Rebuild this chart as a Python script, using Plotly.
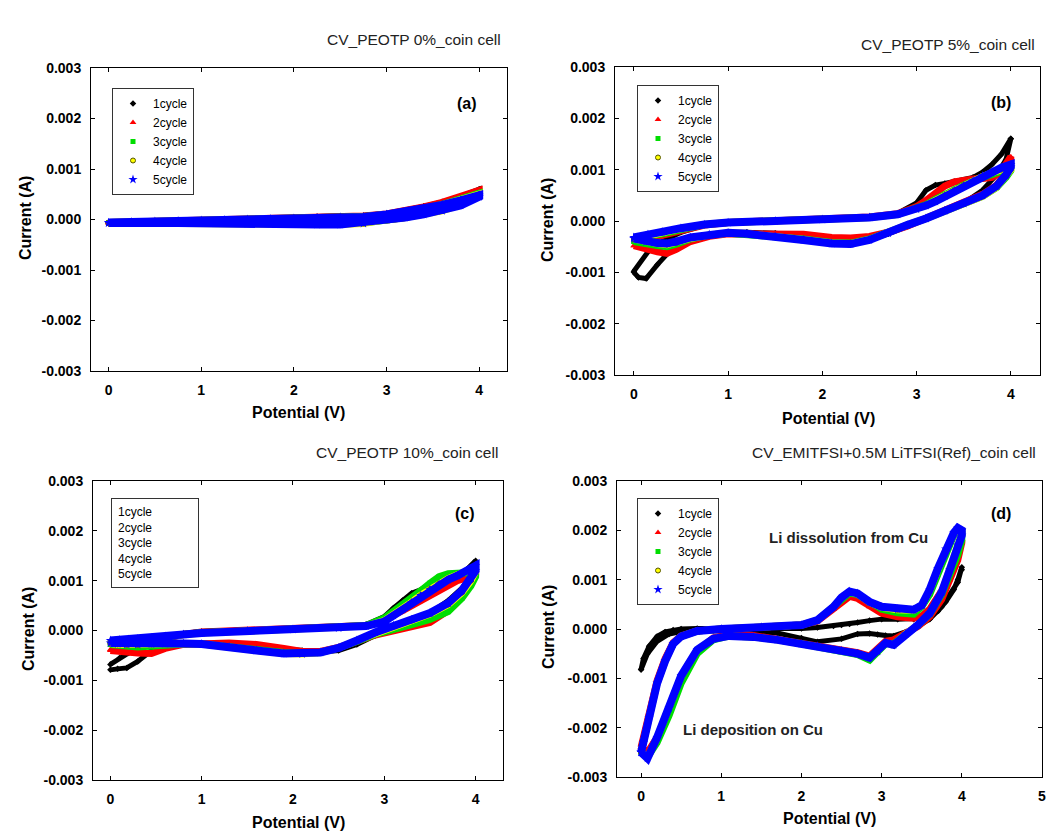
import plotly.graph_objects as go

# ---------------- data ----------------
CYCLE_NAMES = ["1cycle", "2cycle", "3cycle", "4cycle", "5cycle"]

PANEL_TITLES = ["CV_PEOTP 0%_coin cell", "CV_PEOTP 5%_coin cell",
                "CV_PEOTP 10%_coin cell", "CV_EMITFSI+0.5M LiTFSI(Ref)_coin cell"]
PANEL_LABELS = ["(a)", "(b)", "(c)", "(d)"]
X_TITLE = "Potential (V)"
Y_TITLE = "Current (A)"
Y_TICK_VALUES = [-0.003, -0.002, -0.001, 0.0, 0.001, 0.002, 0.003]
Y_TICK_LABELS = ["-0.003", "-0.002", "-0.001", "0.000", "0.001", "0.002", "0.003"]
X_TICKS_ABC = [0, 1, 2, 3, 4]
X_TICKS_D = [0, 1, 2, 3, 4, 5]
D_NOTES = ["Li dissolution from Cu", "Li deposition on Cu"]

# panel (a) : potential (V) along the loop and current (A) per cycle
A_V = [0.0, 0.25, 0.5, 0.75, 1.0, 1.25, 1.5, 1.75, 2.0, 2.25, 2.5, 2.75, 3.0, 3.2, 3.4, 3.6, 3.8, 4.0,
       4.0, 3.8, 3.6, 3.4, 3.2, 3.0, 2.75, 2.5, 2.25, 2.0, 1.75, 1.5, 1.25, 1.0, 0.75, 0.5, 0.25, 0.0]
A_I1 = [-0.00006, -0.00005, -0.00004, -0.00003, -0.00002, -0.00001, 0.0, 0.00002, 0.00004, 0.00006, 0.00007, 0.00008, 0.00012, 0.00018, 0.00026, 0.00035, 0.00046, 0.0006,
        0.00055, 0.00036, 0.00022, 0.00012, 0.00005, 0.0, -0.00004, -0.00005, -0.00004, -0.00004, -0.00005, -0.00005, -0.00006, -0.00006, -0.00007, -0.00007, -0.00008, -0.00008]
A_I2 = [-0.00006, -0.00005, -0.00004, -0.00003, -0.00002, -0.00001, 0.0, 0.00001, 0.00003, 0.00005, 0.00006, 0.00007, 0.00011, 0.00017, 0.00025, 0.00034, 0.00045, 0.00058,
        0.00052, 0.00033, 0.0002, 0.00011, 0.00004, -0.00001, -0.00006, -0.00008, -0.00008, -0.00007, -0.00007, -0.00007, -0.00007, -0.00007, -0.00008, -0.00008, -0.00008, -0.00008]
A_I3 = [-0.00006, -0.00005, -0.00004, -0.00003, -0.00002, -0.00001, 0.0, 0.00001, 0.00002, 0.00004, 0.00005, 0.00006, 0.0001, 0.00015, 0.00022, 0.0003, 0.0004, 0.00052,
        0.00048, 0.0003, 0.00018, 0.0001, 0.00004, -0.00001, -0.00007, -0.00009, -0.00009, -0.00008, -0.00008, -0.00007, -0.00007, -0.00007, -0.00007, -0.00007, -0.00007, -0.00007]
A_I4 = [-0.00006, -0.00005, -0.00004, -0.00003, -0.00002, -0.00001, 0.0, 0.00001, 0.00002, 0.00003, 0.00004, 0.00005, 0.0001, 0.00015, 0.00021, 0.00029, 0.00039, 0.0005,
        0.00046, 0.00029, 0.00017, 0.0001, 0.00004, 0.0, -0.00008, -0.0001, -0.0001, -0.00009, -0.00008, -0.00008, -0.00007, -0.00007, -0.00007, -0.00007, -0.00007, -0.00007]
A_I5 = [-0.00006, -0.00005, -0.00004, -0.00003, -0.00002, -0.00001, 0.0, 0.00001, 0.00002, 0.00003, 0.00004, 0.00005, 0.0001, 0.00015, 0.00021, 0.00029, 0.00038, 0.00048,
        0.00045, 0.00028, 0.00017, 0.0001, 0.00004, 0.0, -0.00008, -0.0001, -0.0001, -0.00009, -0.00008, -0.00008, -0.00007, -0.00007, -0.00007, -0.00007, -0.00007, -0.00007]

# panel (b)
B_V = [0.0, 0.15, 0.3, 0.5, 0.75, 1.0, 1.5, 2.0, 2.5, 2.8, 3.0, 3.1, 3.2, 3.3, 3.4, 3.5, 3.6, 3.7, 3.8, 3.9, 4.0,
       4.0, 3.95, 3.85, 3.7, 3.5, 3.3, 3.1, 2.9, 2.7, 2.5, 2.3, 2.1, 1.8, 1.5, 1.2, 1.0, 0.8, 0.6, 0.45, 0.35, 0.25, 0.13, 0.05, 0.0]
B_I1 = [-0.00098, -0.0006, -0.0004, -0.00022, -0.00008, -0.00003, 0.0, 0.00004, 0.00008, 0.00015, 0.00035, 0.0006, 0.0007, 0.00073, 0.00077, 0.0008, 0.00085, 0.00095, 0.0011, 0.0013, 0.0016,
        0.0016, 0.0012, 0.0009, 0.0006, 0.00035, 0.0002, 0.00005, -0.0001, -0.00025, -0.00037, -0.00038, -0.00034, -0.00028, -0.00024, -0.00022, -0.00022, -0.00026, -0.00035, -0.0005, -0.00065, -0.00085, -0.00112, -0.0011, -0.001]
B_I2 = [-0.00048, -0.00036, -0.00028, -0.00018, -0.00008, -0.00003, 0.0, 0.00005, 0.00008, 0.00014, 0.00028, 0.0004, 0.00055, 0.00068, 0.00076, 0.0008, 0.00082, 0.00083, 0.00085, 0.00098, 0.00125,
        0.0012, 0.00095, 0.0007, 0.00052, 0.00036, 0.00022, 0.00006, -0.0001, -0.00022, -0.0003, -0.00033, -0.00032, -0.00026, -0.00025, -0.00024, -0.00025, -0.0003, -0.0004, -0.00055, -0.00063, -0.0006, -0.00055, -0.0005, -0.00048]
B_I3 = [-0.0004, -0.0003, -0.00025, -0.00016, -0.00007, -0.00003, 0.0, 0.00004, 0.00007, 0.00013, 0.00024, 0.00032, 0.00042, 0.00052, 0.00062, 0.0007, 0.00078, 0.00085, 0.0009, 0.00097, 0.001,
        0.00098, 0.00085, 0.00065, 0.00048, 0.00033, 0.0002, 0.00005, -0.00008, -0.00022, -0.00035, -0.00043, -0.00042, -0.00035, -0.0003, -0.00025, -0.00024, -0.00027, -0.00035, -0.00045, -0.0005, -0.00048, -0.00045, -0.00042, -0.0004]
B_I4 = [-0.00035, -0.00028, -0.00023, -0.00015, -0.00007, -0.00003, 0.0, 0.00003, 0.00007, 0.00013, 0.00023, 0.0003, 0.0004, 0.0005, 0.0006, 0.0007, 0.00078, 0.00087, 0.00094, 0.001, 0.00105,
        0.001, 0.00087, 0.00066, 0.00048, 0.00033, 0.0002, 0.00005, -0.00008, -0.00023, -0.00036, -0.00044, -0.00043, -0.00036, -0.0003, -0.00025, -0.00024, -0.00027, -0.00034, -0.00043, -0.00046, -0.00044, -0.0004, -0.00037, -0.00035]
B_I5 = [-0.00032, -0.00026, -0.00021, -0.00014, -0.00007, -0.00003, 0.0, 0.00003, 0.00007, 0.00013, 0.00023, 0.0003, 0.00038, 0.00048, 0.00058, 0.00068, 0.00078, 0.00088, 0.00096, 0.00104, 0.0011,
        0.00105, 0.0009, 0.00068, 0.0005, 0.00034, 0.0002, 0.00005, -0.00008, -0.00024, -0.00037, -0.00045, -0.00044, -0.00037, -0.0003, -0.00025, -0.00023, -0.00026, -0.00032, -0.0004, -0.00044, -0.00043, -0.0004, -0.00036, -0.00034]

# panel (c)
C_V = [0.0, 0.1, 0.2, 0.3, 0.45, 0.6, 0.8, 1.0, 1.5, 2.0, 2.5, 2.8, 3.0, 3.1, 3.2, 3.3, 3.4, 3.5, 3.6, 3.7, 3.8, 3.9, 4.0,
       4.0, 3.95, 3.85, 3.7, 3.5, 3.3, 3.1, 2.9, 2.7, 2.5, 2.3, 2.1, 1.9, 1.6, 1.3, 1.0, 0.8, 0.6, 0.45, 0.3, 0.18, 0.08, 0.0]
C_I1 = [-0.00068, -0.00055, -0.00045, -0.00036, -0.00025, -0.00014, -0.00006, -0.00002, 0.00001, 0.00004, 0.00007, 0.00012, 0.00028, 0.00045, 0.0006, 0.00075, 0.00082, 0.00083, 0.00085, 0.00095, 0.00108, 0.00122, 0.0014,
        0.0013, 0.0011, 0.00085, 0.0006, 0.00035, 0.00018, 0.00005, -0.0001, -0.00028, -0.0004, -0.00043, -0.0004, -0.00036, -0.0003, -0.00027, -0.00025, -0.00026, -0.0003, -0.0004, -0.00062, -0.00075, -0.00077, -0.00079]
C_I2 = [-0.00038, -0.00034, -0.0003, -0.00027, -0.00022, -0.00016, -0.00008, -0.00003, 0.0, 0.00003, 0.00006, 0.0001, 0.00022, 0.0003, 0.0004, 0.0005, 0.0006, 0.0007, 0.00082, 0.00093, 0.001, 0.00105, 0.0012,
        0.00112, 0.00095, 0.0007, 0.0004, 0.00016, 0.00007, 0.0, -0.00009, -0.00022, -0.00034, -0.00042, -0.00042, -0.00036, -0.00028, -0.00025, -0.00025, -0.00028, -0.00036, -0.00046, -0.00045, -0.00043, -0.0004, -0.0004]
C_I3 = [-0.00028, -0.00026, -0.00024, -0.00022, -0.00019, -0.00014, -0.00008, -0.00004, -0.00001, 0.00002, 0.00005, 0.0001, 0.00025, 0.00038, 0.0005, 0.00065, 0.0008, 0.00095, 0.00108, 0.00114, 0.00116, 0.00116, 0.0011,
        0.00108, 0.0009, 0.00065, 0.00038, 0.00022, 0.00012, 0.00003, -0.00008, -0.00022, -0.00035, -0.00044, -0.00046, -0.00044, -0.00038, -0.00031, -0.00027, -0.00027, -0.0003, -0.00033, -0.00033, -0.00031, -0.0003, -0.00028]
C_I4 = [-0.00022, -0.0002, -0.00019, -0.00018, -0.00016, -0.00013, -0.00008, -0.00005, -0.00001, 0.00002, 0.00005, 0.00009, 0.0002, 0.00031, 0.00043, 0.00057, 0.00071, 0.00083, 0.00094, 0.00104, 0.00112, 0.00118, 0.00125,
        0.00118, 0.001, 0.00076, 0.00052, 0.00033, 0.0002, 0.00008, -0.00005, -0.0002, -0.00035, -0.00044, -0.00047, -0.00046, -0.0004, -0.00033, -0.00027, -0.00026, -0.00027, -0.00028, -0.00029, -0.00029, -0.00028, -0.00026]
C_I5 = [-0.0002, -0.00019, -0.00018, -0.00017, -0.00015, -0.00012, -0.00008, -0.00005, -0.00001, 0.00002, 0.00005, 0.00009, 0.00018, 0.0003, 0.00042, 0.00056, 0.0007, 0.00082, 0.00093, 0.00102, 0.0011, 0.00118, 0.0013,
        0.0012, 0.00105, 0.0008, 0.00055, 0.00035, 0.00022, 0.0001, -0.00004, -0.0002, -0.00035, -0.00044, -0.00047, -0.00046, -0.0004, -0.00033, -0.00027, -0.00026, -0.00026, -0.00027, -0.00028, -0.00028, -0.00027, -0.00025]

# panel (d)
D_V = [0.0, 0.03, 0.1, 0.2, 0.3, 0.4, 0.5, 0.7, 1.0, 1.5, 2.0, 2.2, 2.4, 2.5, 2.6, 2.7, 2.85, 3.0, 3.2, 3.4, 3.5, 3.6, 3.7, 3.8, 3.9, 3.95, 4.0,
       4.0, 3.95, 3.85, 3.75, 3.6, 3.45, 3.3, 3.15, 3.05, 2.95, 2.85, 2.7, 2.5, 2.2, 2.0, 1.7, 1.4, 1.1, 0.9, 0.7, 0.5, 0.35, 0.2, 0.08, 0.0]
D_I1 = [-0.00082, -0.0006, -0.00035, -0.00015, -0.00006, -0.00002, 0.0, 0.00001, 0.00001, 0.0, 0.00001, 0.00003, 0.00006, 0.00008, 0.0001, 0.00013, 0.00017, 0.0002, 0.0002, 0.0002, 0.00022, 0.00026, 0.00036, 0.00055, 0.0008, 0.001, 0.00125,
        0.0012, 0.00095, 0.0007, 0.00045, 0.0002, 0.00005, -0.00006, -0.00014, -0.00013, -0.00011, -0.00009, -0.0001, -0.0002, -0.00026, -0.00018, -0.00008, -0.00005, -0.00004, -0.00003, -0.00003, -0.00005, -0.0001, -0.00025, -0.0005, -0.00082]
D_I2 = [-0.0024, -0.0022, -0.0017, -0.00105, -0.0006, -0.00028, -0.00014, -0.00004, 0.0, 0.00004, 0.00008, 0.00016, 0.0004, 0.00056, 0.00066, 0.00062, 0.00045, 0.00032, 0.00025, 0.00022, 0.00026, 0.0004, 0.00065, 0.0009, 0.0013, 0.0016, 0.0018,
        0.00175, 0.0014, 0.001, 0.0006, 0.00025, 0.00005, -0.00008, -0.00022, -0.00025, -0.0004, -0.00055, -0.00048, -0.00043, -0.00034, -0.00029, -0.0002, -0.00013, -0.00011, -0.00018, -0.00045, -0.001, -0.0017, -0.0022, -0.0025, -0.0024]
D_I3 = [-0.0025, -0.0023, -0.0018, -0.0011, -0.00065, -0.0003, -0.00015, -0.00004, 0.0, 0.00004, 0.00008, 0.00018, 0.00046, 0.00063, 0.00073, 0.0007, 0.00053, 0.0004, 0.00033, 0.0003, 0.00045, 0.0007, 0.0011, 0.0015, 0.0019, 0.002, 0.00195,
        0.0018, 0.0015, 0.0011, 0.0007, 0.0003, 0.00007, -0.0001, -0.0003, -0.0003, -0.00048, -0.00063, -0.00052, -0.00045, -0.00036, -0.0003, -0.00022, -0.00016, -0.00014, -0.00022, -0.0005, -0.0011, -0.00175, -0.0023, -0.0026, -0.0025]
D_I4 = [-0.0025, -0.0023, -0.0018, -0.0011, -0.00065, -0.0003, -0.00015, -0.00004, 0.0, 0.00004, 0.00008, 0.00018, 0.00045, 0.00064, 0.00075, 0.00071, 0.00054, 0.00044, 0.00039, 0.00038, 0.00047, 0.00078, 0.0012, 0.0016, 0.00193, 0.00203, 0.002,
        0.0019, 0.0017, 0.0012, 0.00075, 0.00032, 0.00008, -0.0001, -0.00032, -0.00028, -0.00045, -0.00058, -0.0005, -0.00044, -0.00035, -0.0003, -0.00022, -0.00016, -0.00014, -0.0002, -0.00042, -0.00095, -0.0016, -0.0022, -0.0026, -0.0025]
D_I5 = [-0.0025, -0.0023, -0.0018, -0.0011, -0.00065, -0.0003, -0.00015, -0.00004, 0.0, 0.00004, 0.00008, 0.00018, 0.00045, 0.00064, 0.00076, 0.00072, 0.00055, 0.00045, 0.0004, 0.00039, 0.00048, 0.0008, 0.00122, 0.00162, 0.00195, 0.00205, 0.002,
        0.0019, 0.0017, 0.0012, 0.00075, 0.00032, 0.00008, -0.0001, -0.00032, -0.00028, -0.00045, -0.00058, -0.0005, -0.00044, -0.00035, -0.0003, -0.00022, -0.00016, -0.00014, -0.0002, -0.00042, -0.00095, -0.0016, -0.0022, -0.00262, -0.0025]

PANELS = [
    (A_V, [A_I1, A_I2, A_I3, A_I4, A_I5]),
    (B_V, [B_I1, B_I2, B_I3, B_I4, B_I5]),
    (C_V, [C_I1, C_I2, C_I3, C_I4, C_I5]),
    (D_V, [D_I1, D_I2, D_I3, D_I4, D_I5]),
]
for v, cyc in PANELS:
    for c in cyc:
        assert len(v) == len(c), (len(v), len(c))

# ---------------- style / layout ----------------
W, H = 1057, 839
FONT = "Arial, Liberation Sans, sans-serif"
COLORS = ["#000000", "#ff0000", "#00dd00", "#ffff00", "#0000ff"]
SYMBOLS = ["diamond", "triangle-up", "square", "circle", "star"]
LINE_W = [5, 7, 7, 7, 8]
MARK_S = [5, 6, 5, 5, 7]


def px(x):
    return x / W


def py(y):
    return 1 - y / H


# pixel boxes of plot areas: (left, right, top, bottom), x ranges
BOXES = [(91, 507, 68, 371), (615, 1040, 67, 375), (93, 503, 481, 780), (617, 1042, 481, 777)]
XRANGES = [[-0.19, 4.30], [-0.20, 4.31], [-0.19, 4.30], [-0.30, 5.0]]
LEGEND_POS = {0: (112, 88), 1: (637, 85), 3: (637, 498)}
LEGEND_KEYS = {0: "legend", 1: "legend2", 3: "legend3"}

fig = go.Figure()

for p, (v, cycles) in enumerate(PANELS):
    xa = "x" if p == 0 else f"x{p+1}"
    ya = "y" if p == 0 else f"y{p+1}"
    for k, cur in enumerate(cycles):
        fig.add_trace(go.Scatter(
            x=v, y=cur, xaxis=xa, yaxis=ya, mode="lines",
            line=dict(color=COLORS[k], width=LINE_W[k]),
            showlegend=False, hoverinfo="skip"))
        mk = dict(color=COLORS[k], size=MARK_S[k], symbol=SYMBOLS[k], line=dict(width=0))
        if k == 3:
            mk["line"] = dict(color="#555500", width=1)
        fig.add_trace(go.Scatter(
            x=v, y=cur, xaxis=xa, yaxis=ya, mode="markers",
            marker=mk, name=CYCLE_NAMES[k],
            showlegend=(p in LEGEND_KEYS),
            legend=LEGEND_KEYS.get(p, "legend")))

layout = dict(
    width=W, height=H, margin=dict(l=0, r=0, t=0, b=0, autoexpand=False),
    paper_bgcolor="white", plot_bgcolor="white",
    font=dict(family=FONT, color="black"),
    showlegend=True,
)

for p in range(4):
    l, r, t, b = BOXES[p]
    xs = "xaxis" if p == 0 else f"xaxis{p+1}"
    ys = "yaxis" if p == 0 else f"yaxis{p+1}"
    xa = "x" if p == 0 else f"x{p+1}"
    ya = "y" if p == 0 else f"y{p+1}"
    common = dict(showline=True, linecolor="black", linewidth=1, mirror="ticks",
                  ticks="inside", ticklen=4, tickcolor="black", showgrid=False,
                  zeroline=False, automargin=False,
                  tickfont=dict(family=FONT, size=14, weight="bold", color="black"))
    layout[xs] = dict(domain=[px(l), px(r)], range=XRANGES[p], anchor=ya,
                      tickvals=X_TICKS_D if p == 3 else X_TICKS_ABC,
                      ticktext=[str(t_) for t_ in (X_TICKS_D if p == 3 else X_TICKS_ABC)],
                      ticklabelstandoff=6, **common)
    layout[ys] = dict(domain=[py(b), py(t)], range=[-0.003, 0.003], anchor=xa,
                      tickvals=Y_TICK_VALUES, ticktext=Y_TICK_LABELS,
                      ticklabelstandoff=6, **common)

for p, key in LEGEND_KEYS.items():
    lx, ly = LEGEND_POS[p]
    layout[key] = dict(x=px(lx), y=py(ly), xanchor="left", yanchor="top",
                       bgcolor="white", bordercolor="#333333", borderwidth=1,
                       font=dict(family=FONT, size=12, color="black"),
                       itemsizing="trace", entrywidth=56, tracegroupgap=0)

fig.update_layout(**layout)

ann = []
TITLE_POS = [(503, 40), (1037, 45), (500, 452), (1038, 452)]
LABEL_POS = [(467, 103), (1001, 102), (465, 513), (1001, 513)]
XT_POS = [(298, 413), (828, 418), (298, 822), (829, 818)]
YT_POS = [(25, 218), (547, 220), (28, 629), (548, 627)]
for p in range(4):
    tx, ty = TITLE_POS[p]
    ann.append(dict(text=PANEL_TITLES[p], x=px(tx), y=py(ty), xref="paper", yref="paper",
                    xanchor="right", yanchor="middle", showarrow=False,
                    font=dict(family=FONT, size=15.5, color="#222222")))
    lx, ly = LABEL_POS[p]
    ann.append(dict(text=PANEL_LABELS[p], x=px(lx), y=py(ly), xref="paper", yref="paper",
                    xanchor="center", yanchor="middle", showarrow=False,
                    font=dict(family=FONT, size=16, weight="bold", color="black")))
    xx, xy = XT_POS[p]
    ann.append(dict(text=X_TITLE, x=px(xx), y=py(xy), xref="paper", yref="paper",
                    xanchor="center", yanchor="middle", showarrow=False,
                    font=dict(family=FONT, size=16, weight="bold", color="black")))
    yx, yy = YT_POS[p]
    ann.append(dict(text=Y_TITLE, x=px(yx), y=py(yy), xref="paper", yref="paper",
                    xanchor="center", yanchor="middle", showarrow=False, textangle=-90,
                    font=dict(family=FONT, size=16, weight="bold", color="black")))

# legend of panel (c): text only in a bordered box
ann.append(dict(text="<br>".join(CYCLE_NAMES), x=px(111), y=py(498), xref="paper", yref="paper",
                xanchor="left", yanchor="top", showarrow=False, align="left",
                bordercolor="#333333", borderwidth=1, borderpad=6, bgcolor="white",
                width=74, font=dict(family=FONT, size=12, color="black")))

# notes in panel (d)
ann.append(dict(text=D_NOTES[0], x=px(767), y=py(537), xref="paper", yref="paper",
                xanchor="left", yanchor="middle", showarrow=False,
                font=dict(family=FONT, size=15, weight="bold", color="#222222")))
ann.append(dict(text=D_NOTES[1], x=px(681), y=py(729), xref="paper", yref="paper",
                xanchor="left", yanchor="middle", showarrow=False,
                font=dict(family=FONT, size=15, weight="bold", color="#222222")))

fig.update_layout(annotations=ann)

fig.write_html("out.html", config={"displayModeBar": False},
               post_script="document.body.style.margin='0px';document.body.style.padding='0px';")
